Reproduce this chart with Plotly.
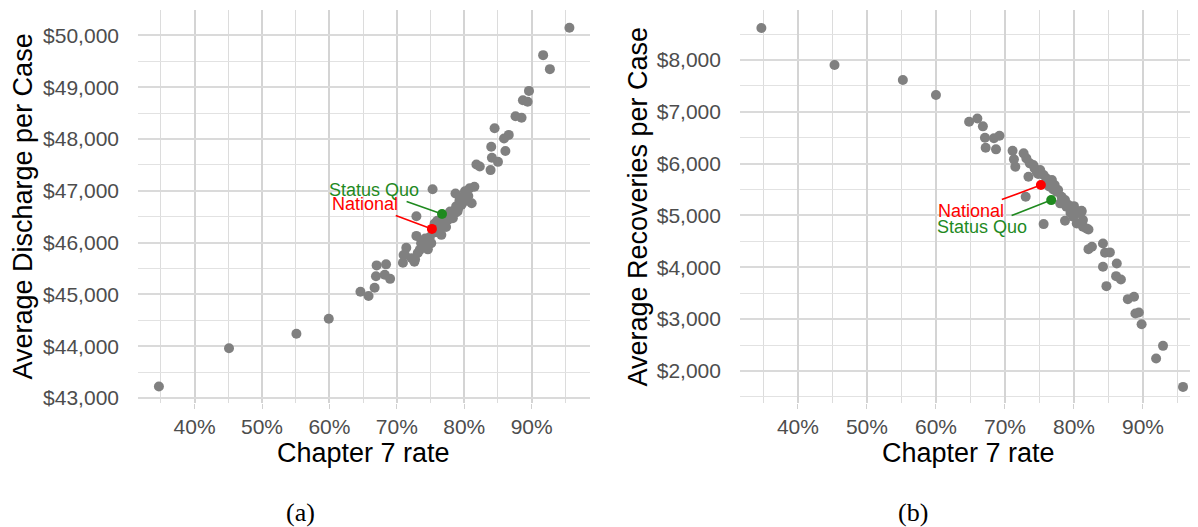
import plotly.graph_objects as go

# panel (a): chapter 7 rate (%) vs average discharge per case ($)
rate_a = [34.7, 45.1, 55.1, 59.9, 64.6, 65.8, 66.7, 67.0, 68.4, 66.9, 68.2, 69.0,
          70.9, 71.0, 71.4, 71.2, 72.2, 72.6, 73.1, 72.7, 72.9, 73.4, 74.1, 73.6,
          74.4, 74.9, 75.1, 74.6, 73.8, 74.2, 75.6, 76.6, 76.8, 77.6, 78.1, 78.6,
          79.1, 79.6, 75.8, 76.2, 77.0, 77.3, 78.3, 79.0, 77.9, 76.0, 72.9, 75.3,
          78.7, 78.8, 79.3, 79.8, 80.1, 80.8, 81.5, 81.1, 80.3, 80.6, 81.8, 82.3,
          83.9, 84.1, 85.0, 84.0, 86.1, 85.9, 86.6, 84.5, 87.6, 88.5, 88.7, 89.4,
          89.6, 91.7, 92.7, 95.6]
discharge = [43220, 43960, 44240, 44530, 45050, 44970, 45130, 45560, 45580, 45350, 45380, 45300,
             45610, 45760, 45900, 45760, 45700, 45630, 45800, 45680, 46130, 45860, 45920, 45990,
             46050, 46110, 45990, 45870, 46000, 46080, 46370, 46150, 46310, 46440, 46540, 46570,
             46660, 46730, 46200, 46260, 46380, 46300, 46470, 46600, 46600, 46420, 46510, 47030,
             46950, 46700, 46820, 46890, 46990, 47050, 47080, 46760, 46810, 46900, 47510, 47470,
             47400, 47640, 47560, 47850, 47770, 48010, 48080, 48210, 48440, 48410, 48750, 48720,
             48930, 49620, 49350, 50150]

# panel (b): chapter 7 rate (%) vs average recoveries per case ($)
rate_b = [34.7, 45.3, 55.2, 60.0, 64.8, 66.0, 66.8, 67.1, 68.4, 69.2, 67.2, 68.7,
          71.1, 71.3, 71.5, 72.7, 73.1, 73.6, 74.1, 74.3, 74.6, 75.1, 75.6, 76.0,
          76.8, 77.2, 77.7, 73.4, 73.0, 75.6, 74.8, 75.9, 76.4, 77.0, 77.5, 78.2,
          78.0, 78.7, 78.9, 79.2, 79.9, 80.4, 81.1, 78.7, 79.9, 81.1, 80.4, 81.3,
          81.3, 81.8, 82.1, 79.5, 80.0, 82.1, 82.6, 84.2, 84.5, 85.2, 84.2, 86.2,
          86.1, 86.8, 84.7, 87.8, 88.7, 88.9, 89.4, 89.8, 92.9, 91.9, 95.8]
recoveries = [8618, 7903, 7614, 7324, 6809, 6870, 6720, 6500, 6490, 6540, 6307, 6276,
              6249, 6083, 5940, 6199, 6102, 6006, 5973, 5909, 5844, 5877, 5780, 5716,
              5683, 5587, 5490, 5747, 5361, 4834, 5800, 5620, 5560, 5500, 5457, 5361,
              5234, 5297, 5168, 5201, 5104, 5040, 5093, 4898, 4975, 5071, 4847, 4911,
              4782, 4751, 4730, 5050, 5180, 4351, 4396, 4461, 4280, 4288, 4010, 4075,
              3830, 3766, 3637, 3386, 3431, 3110, 3129, 2903, 2485, 2241, 1693]

national_rate = 75.2
status_quo_rate = 76.7
national_discharge = 46265
status_quo_discharge = 46554
national_recoveries = 5587
status_quo_recoveries = 5297

GREY = "#808080"
RED = "#FF0000"
GREEN = "#1F8A1F"
FONT = "Liberation Sans, Arial, sans-serif"

# the page body adds an 8px margin, so the figure is sized 8px short of the window
W, H = 1190, 519

fig = go.Figure()

fig.add_trace(go.Scatter(x=rate_a, y=discharge, mode="markers",
                         marker=dict(color=GREY, size=10), xaxis="x", yaxis="y"))
fig.add_trace(go.Scatter(x=rate_b, y=recoveries, mode="markers",
                         marker=dict(color=GREY, size=10), xaxis="x2", yaxis="y2"))

# highlighted points
fig.add_trace(go.Scatter(x=[status_quo_rate, national_rate],
                         y=[status_quo_discharge, national_discharge], mode="markers",
                         marker=dict(color=[GREEN, RED], size=10), xaxis="x", yaxis="y"))
fig.add_trace(go.Scatter(x=[status_quo_rate, national_rate],
                         y=[status_quo_recoveries, national_recoveries], mode="markers",
                         marker=dict(color=[GREEN, RED], size=10), xaxis="x2", yaxis="y2"))


def label(text, x, y, xref, yref, color, ax, ay):
    return dict(text=text, x=x, y=y, xref=xref, yref=yref, ax=ax, ay=ay,
                showarrow=True, arrowhead=0, arrowwidth=1.6, arrowcolor=color,
                standoff=0, font=dict(family=FONT, size=18, color=color))


grid_major = "#DADADA"
grid_minor = "#E2E2E2"

x_common = dict(dtick=10, tick0=0, ticksuffix="%", showgrid=True, gridcolor="#D4D4D4",
                gridwidth=1.6, zeroline=False, showline=False, ticks="outside", ticklen=5,
                tickcolor="#D0D0D0", tickwidth=1.4, automargin=False, ticklabelstandoff=0,
                minor=dict(dtick=5, tick0=0, showgrid=True, gridcolor="#DCDCDC", gridwidth=1.2),
                tickfont=dict(family=FONT, size=21, color="#4D4D4D"))
y_common = dict(tickprefix="$", tickformat=",d", showgrid=True, gridcolor=grid_major,
                gridwidth=2.2, zeroline=False, showline=False, ticks="", automargin=False,
                ticklabelstandoff=18,
                tickfont=dict(family=FONT, size=21, color="#4D4D4D"))

title_font = dict(family=FONT, size=27, color="black")
caption_font = dict(family="Liberation Serif, serif", size=26, color="black")

annotations = [
    label("Status Quo", status_quo_rate, status_quo_discharge, "x", "y", GREEN, -68, -24),
    label("National", national_rate, national_discharge, "x", "y", RED, -67, -25),
    label("National", national_rate, national_recoveries, "x2", "y2", RED, -70, 26),
    label("Status Quo", status_quo_rate, status_quo_recoveries, "x2", "y2", GREEN, -69, 27),
    dict(text="Chapter 7 rate", x=0.5, y=-0.127, xref="x domain", yref="paper",
         showarrow=False, font=title_font, xanchor="center", yanchor="middle"),
    dict(text="Chapter 7 rate", x=0.5, y=-0.127, xref="x2 domain", yref="paper",
         showarrow=False, font=title_font, xanchor="center", yanchor="middle"),
    dict(text="Average Discharge per Case", x=-0.1094, y=0.5, xref="paper", yref="paper",
         textangle=-90, showarrow=False, font=title_font, xanchor="center"),
    dict(text="Average Recoveries per Case", x=0.4708, y=0.5, xref="paper", yref="paper",
         textangle=-90, showarrow=False, font=title_font, xanchor="center"),
    dict(text="(a)", x=(300 - 138) / 1060, y=(403 - 512) / 393, xref="paper", yref="paper",
         showarrow=False, font=caption_font, xanchor="center", yanchor="middle"),
    dict(text="(b)", x=(913 - 138) / 1060, y=(403 - 512) / 393, xref="paper", yref="paper",
         showarrow=False, font=caption_font, xanchor="center", yanchor="middle"),
]

fig.update_layout(
    width=W, height=H,
    margin=dict(l=130, r=0, t=2, b=124, autoexpand=False),
    plot_bgcolor="white", paper_bgcolor="white",
    showlegend=False, hovermode=False,
    xaxis=dict(domain=[0, 0.4264], range=[31.6, 98.65], anchor="y", **x_common),
    yaxis=dict(domain=[0, 1], range=[42903, 50492], dtick=1000, anchor="x",
               minor=dict(dtick=500, showgrid=True, gridcolor=grid_minor, gridwidth=1.2),
               **y_common),
    xaxis2=dict(domain=[0.5679, 1], range=[31.6, 97.97], anchor="y2", **x_common),
    yaxis2=dict(domain=[0, 1], range=[1382, 8965], dtick=1000, anchor="x2",
                minor=dict(dtick=500, showgrid=True, gridcolor=grid_minor, gridwidth=1.2),
                **y_common),
    annotations=annotations,
)

fig.write_html("out.html")
